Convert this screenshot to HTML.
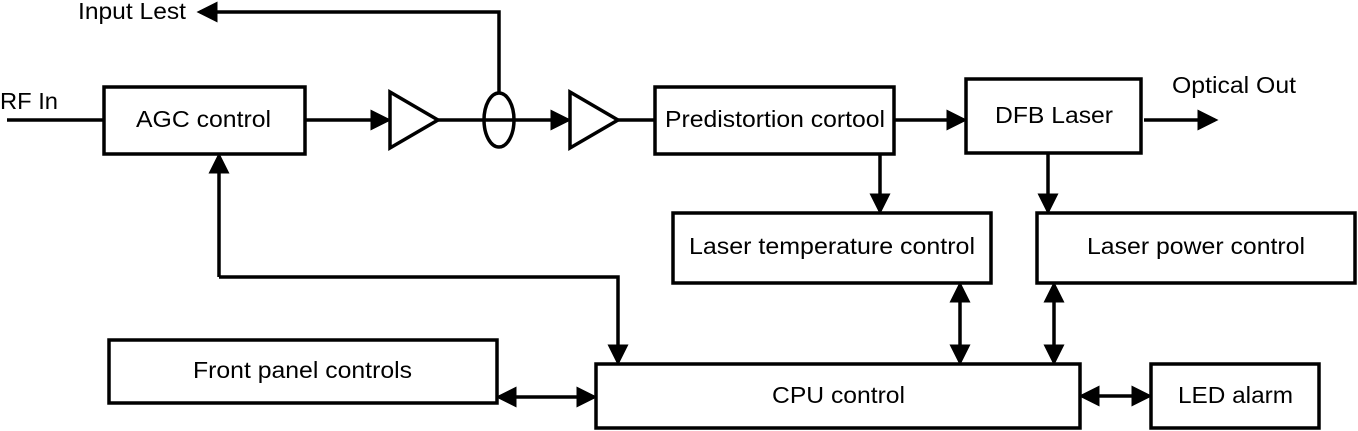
<!DOCTYPE html>
<html><head><style>body{margin:0;background:#fff}svg{display:block}text{font-family:"Liberation Sans",Arial,sans-serif;font-size:23px;fill:#000}</style></head>
<body>
<svg width="1358" height="431" viewBox="0 0 1358 431" xmlns="http://www.w3.org/2000/svg">
<defs>
<marker id="a" markerWidth="6" markerHeight="6" refX="5" refY="3" orient="auto-start-reverse" markerUnits="strokeWidth"><path d="M0,0 L6,3 L0,6 z" fill="#000"/></marker>
</defs>
<g fill="none" stroke="#000" stroke-width="3.5">
<rect x="104" y="87" width="201" height="67"/>
<rect x="655" y="87" width="239" height="67"/>
<rect x="966" y="79" width="175" height="74"/>
<rect x="673" y="213" width="318" height="70"/>
<rect x="1037" y="213" width="318" height="70"/>
<rect x="109" y="340" width="388" height="63"/>
<rect x="596" y="364" width="484" height="64"/>
<rect x="1151" y="364" width="168" height="64"/>
<path d="M390,92 L438,120 L390,148 z"/>
<path d="M570,92 L618,120 L570,148 z"/>
<ellipse cx="499" cy="120" rx="15" ry="27"/>
<line x1="7" y1="120" x2="104" y2="120"/>
<line x1="305" y1="120" x2="388" y2="120" marker-end="url(#a)"/>
<line x1="438" y1="120" x2="568" y2="120" marker-end="url(#a)"/>
<line x1="618" y1="120" x2="655" y2="120"/>
<path d="M499,93 L499,12 L200,12" marker-end="url(#a)"/>
<line x1="894" y1="120" x2="964" y2="120" marker-end="url(#a)"/>
<line x1="1144" y1="120" x2="1215" y2="120" marker-end="url(#a)"/>
<line x1="880" y1="154" x2="880" y2="211" marker-end="url(#a)"/>
<line x1="1048" y1="153" x2="1048" y2="211" marker-end="url(#a)"/>
<line x1="960" y1="285" x2="960" y2="362" marker-start="url(#a)" marker-end="url(#a)"/>
<line x1="1054" y1="285" x2="1054" y2="362" marker-start="url(#a)" marker-end="url(#a)"/>
<line x1="499" y1="397" x2="594" y2="397" marker-start="url(#a)" marker-end="url(#a)"/>
<line x1="1082" y1="396" x2="1149" y2="396" marker-start="url(#a)" marker-end="url(#a)"/>
<path d="M219,277 L618,277 L618,362" marker-end="url(#a)"/>
<line x1="219" y1="277" x2="219" y2="156" marker-end="url(#a)"/>
</g>
<g lengthAdjust="spacingAndGlyphs">
<text x="0" y="109" textLength="58" lengthAdjust="spacingAndGlyphs">RF In</text>
<text x="78" y="19" textLength="108" lengthAdjust="spacingAndGlyphs">Input Lest</text>
<text x="136" y="127" textLength="135" lengthAdjust="spacingAndGlyphs">AGC control</text>
<text x="665" y="127" textLength="220" lengthAdjust="spacingAndGlyphs">Predistortion cortool</text>
<text x="995" y="123" textLength="118" lengthAdjust="spacingAndGlyphs">DFB Laser</text>
<text x="1172" y="93" textLength="124" lengthAdjust="spacingAndGlyphs">Optical Out</text>
<text x="689" y="254" textLength="286" lengthAdjust="spacingAndGlyphs">Laser temperature control</text>
<text x="1087" y="254" textLength="218" lengthAdjust="spacingAndGlyphs">Laser power control</text>
<text x="193" y="378" textLength="219" lengthAdjust="spacingAndGlyphs">Front panel controls</text>
<text x="772" y="403" textLength="133" lengthAdjust="spacingAndGlyphs">CPU control</text>
<text x="1178" y="403" textLength="115" lengthAdjust="spacingAndGlyphs">LED alarm</text>
</g>
</svg>
</body></html>
